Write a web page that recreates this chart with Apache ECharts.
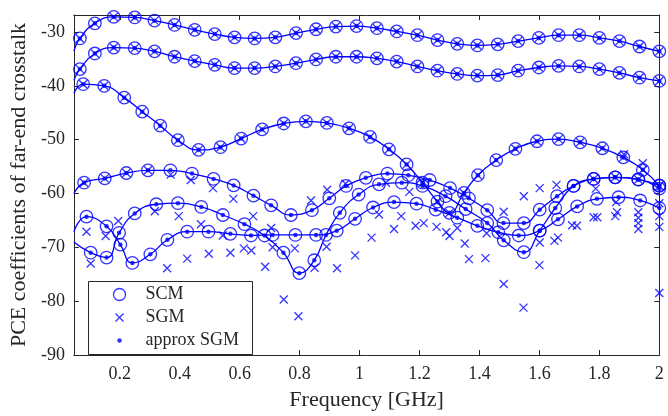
<!DOCTYPE html>
<html><head><meta charset="utf-8">
<script src="https://cdn.jsdelivr.net/npm/echarts@6/dist/echarts.min.js"></script>
<style>html,body{margin:0;padding:0;background:#fff}#c{width:668px;height:416px}</style>
</head><body><div id="c"></div>
<script>
// ---- data (frequency in GHz, PCE coefficient in dB) ----
const fStart = 0.047;
const lineStart = [-33.5, -39.0, -41.4, -60.0, -67.1, -69.0];

const fA = [0.067, 0.117, 0.18, 0.25, 0.316, 0.383, 0.45, 0.517, 0.583, 0.65, 0.719, 0.788, 0.855, 0.921, 0.99, 1.058, 1.124, 1.193, 1.26, 1.326, 1.393, 1.461, 1.529, 1.598, 1.664, 1.733, 1.8, 1.867, 1.934, 2.0];
const scm1 = [-31.2, -28.4, -27.2, -27.3, -27.9, -28.7, -29.6, -30.4, -31.0, -31.2, -31.0, -30.2, -29.5, -29.0, -28.9, -29.3, -29.9, -30.6, -31.5, -32.2, -32.5, -32.3, -31.7, -31.1, -30.6, -30.6, -31.1, -31.7, -32.7, -33.6];
const scm2 = [-36.9, -34.0, -32.9, -33.0, -33.6, -34.6, -35.4, -36.1, -36.7, -36.7, -36.4, -35.8, -35.1, -34.6, -34.6, -34.9, -35.5, -36.4, -37.2, -37.8, -38.1, -38.0, -37.2, -36.6, -36.3, -36.4, -36.9, -37.6, -38.5, -39.1];

const f3 = [0.078, 0.148, 0.215, 0.275, 0.335, 0.394, 0.463, 0.536, 0.605, 0.675, 0.747, 0.821, 0.891, 0.965, 1.035, 1.098, 1.157, 1.21, 1.26, 1.30, 1.348, 1.395, 1.456, 1.52, 1.592, 1.664, 1.736, 1.81, 1.88, 1.945, 2.0];
const scm3 = [-39.7, -40.0, -42.2, -44.8, -47.4, -50.1, -51.9, -51.4, -49.8, -48.1, -47.0, -46.6, -46.9, -47.9, -49.5, -51.8, -54.6, -58.0, -61.5, -63.6, -59.9, -56.6, -53.8, -51.7, -50.3, -49.9, -50.5, -51.6, -53.3, -55.6, -58.6];

const f4 = [0.081, 0.15, 0.222, 0.294, 0.369, 0.441, 0.513, 0.58, 0.646, 0.705, 0.771, 0.841, 0.899, 0.955, 1.021, 1.093, 1.163, 1.234, 1.302, 1.365, 1.426, 1.48, 1.548, 1.601, 1.659, 1.714, 1.781, 1.853, 1.93, 2.0];
const scm4 = [-58.0, -57.2, -56.2, -55.7, -55.7, -56.3, -57.3, -58.5, -60.4, -62.2, -64.0, -63.1, -60.9, -58.6, -57.1, -56.3, -56.6, -57.5, -59.0, -60.9, -63.1, -65.5, -65.5, -63.0, -60.5, -58.6, -57.3, -57.0, -57.4, -58.5];

const f5 = [0.089, 0.156, 0.202, 0.242, 0.302, 0.359, 0.425, 0.496, 0.569, 0.638, 0.71, 0.786, 0.855, 0.924, 0.985, 1.045, 1.115, 1.19, 1.254, 1.326, 1.393, 1.463, 1.531, 1.601, 1.662, 1.726, 1.792, 1.864, 1.936, 2.0];
const scm5 = [-64.3, -66.1, -69.5, -72.9, -71.3, -68.6, -67.1, -67.1, -67.5, -67.8, -67.7, -67.7, -67.7, -66.9, -64.7, -62.6, -61.6, -61.9, -63.0, -64.5, -66.0, -67.2, -67.8, -66.9, -64.8, -62.4, -61.0, -60.7, -61.3, -62.7];

const f6 = [0.103, 0.156, 0.198, 0.25, 0.322, 0.394, 0.472, 0.544, 0.616, 0.683, 0.746, 0.799, 0.849, 0.888, 0.934, 0.997, 1.065, 1.141, 1.21, 1.287, 1.354, 1.426, 1.481, 1.548, 1.601, 1.653, 1.714, 1.781, 1.853, 1.93, 2.0];
const scm6 = [-71.0, -71.9, -67.3, -63.7, -62.0, -61.8, -62.5, -64.0, -65.7, -67.8, -71.0, -74.8, -72.4, -67.7, -63.6, -60.2, -58.3, -58.0, -58.6, -60.5, -62.9, -65.5, -68.7, -70.9, -66.9, -62.7, -58.6, -57.3, -57.0, -57.4, -59.1];

// SGM samples that do not sit on the SCM circles
const sgmF = [0.089, 0.103, 0.153, 0.195, 0.317, 0.358, 0.37, 0.397, 0.425, 0.437, 0.471, 0.497, 0.511, 0.544, 0.569, 0.579, 0.614, 0.639, 0.645, 0.685, 0.705, 0.71, 0.747, 0.784, 0.796, 0.838, 0.85, 0.89, 0.892, 0.925, 0.953, 0.985, 1.04, 1.065, 1.088, 1.115, 1.139, 1.166, 1.187, 1.214, 1.257, 1.289, 1.30, 1.326, 1.351, 1.365, 1.42, 1.424, 1.481, 1.481, 1.548, 1.547, 1.601, 1.601, 1.6, 1.657, 1.65, 1.662, 1.709, 1.725, 1.781, 1.793, 1.788, 1.853, 1.859, 1.856, 1.882, 1.93, 1.93, 1.93, 1.93, 1.945, 2.0, 2.0, 2.0, 2.0];
const sgmV = [-67.1, -73.0, -67.9, -65.1, -63.3, -73.9, -56.5, -64.2, -72.1, -57.5, -65.7, -71.2, -59.0, -67.8, -71.0, -61.0, -70.2, -70.6, -64.2, -73.6, -66.4, -70.0, -79.7, -70.2, -82.8, -61.3, -73.8, -69.9, -59.3, -73.9, -58.2, -71.5, -68.2, -63.9, -58.0, -66.6, -64.2, -59.7, -66.0, -65.5, -66.2, -67.2, -67.9, -66.4, -69.3, -72.2, -72.0, -67.4, -63.4, -76.8, -60.5, -81.2, -59.0, -69.1, -73.3, -58.4, -68.8, -68.2, -65.9, -66.0, -64.4, -64.4, -59.1, -64.2, -63.5, -61.6, -52.7, -63.5, -64.5, -65.5, -66.6, -54.4, -61.8, -64.2, -66.2, -78.5];

const xTickStep = 0.2;
const yTickStep = 10;

// ---- build ----
const blue = '#0000ff';
const axisColor = '#262626';
const font = 'Liberation Serif';
const zip = (f, v) => f.map((x, i) => [x, v[i]]);
const curves = [[fA, scm1], [fA, scm2], [f3, scm3], [f4, scm4], [f5, scm5], [f6, scm6]];

const allPts = [];
curves.forEach(c => zip(c[0], c[1]).forEach(p => allPts.push(p)));

const sgmPts = [];
[0, 1, 2].forEach(i => zip(curves[i][0], curves[i][1]).forEach(p => sgmPts.push(p)));
zip(f4, scm4).slice(0, 4).forEach(p => sgmPts.push(p));
zip(f6, scm6).slice(27, 30).forEach(p => sgmPts.push(p));
zip(sgmF, sgmV).forEach(p => sgmPts.push(p));

const series = curves.map((c, i) => ({
  type: 'line', data: [[fStart, lineStart[i]]].concat(zip(c[0], c[1])),
  smooth: 0.5, showSymbol: false, symbol: 'none', silent: true, z: 2,
  lineStyle: { color: blue, width: 1.3 }
}));
series.push({ type: 'scatter', name: 'SCM', data: allPts, symbol: 'circle', symbolSize: 12.5, z: 3,
  itemStyle: { color: 'rgba(0,0,0,0)', borderColor: blue, borderWidth: 1.3 } });
series.push({ type: 'scatter', name: 'SGM', data: sgmPts, symbol: 'path://M0,0L10,10M10,0L0,10', symbolSize: 8, z: 4,
  itemStyle: { color: 'none', borderColor: blue, borderWidth: 1.3 } });
series.push({ type: 'scatter', name: 'approx SGM', data: allPts, symbol: 'circle', symbolSize: 4.5, z: 5,
  itemStyle: { color: blue } });

const xFmt = v => { const k = v / xTickStep; return Math.abs(k - Math.round(k)) < 1e-6 ? String(Math.round(v * 10) / 10) : ''; };
const yFmt = v => { const k = v / yTickStep; return Math.abs(k - Math.round(k)) < 1e-6 ? String(Math.round(v)) : ''; };

const xBase = { type: 'value', min: fStart, max: 2, splitNumber: 10, splitLine: { show: false },
  axisLine: { lineStyle: { color: axisColor, width: 1 } },
  axisTick: { inside: true, length: 5, lineStyle: { color: axisColor } } };
const yBase = { type: 'value', min: -90, max: -26.85, interval: yTickStep, splitLine: { show: false },
  axisLine: { lineStyle: { color: axisColor, width: 1 } },
  axisTick: { inside: true, length: 5, lineStyle: { color: axisColor } } };

const chart = echarts.init(document.getElementById('c'), null, { renderer: 'canvas' });
chart.setOption({
  animation: false,
  backgroundColor: '#fff',
  textStyle: { fontFamily: font },
  grid: { left: 72.3, right: 8.7, top: 15, bottom: 54.3, containLabel: false },
  xAxis: [
    Object.assign({}, xBase, { position: 'bottom', name: 'Frequency [GHz]', nameLocation: 'middle', nameGap: 34,
      nameTextStyle: { fontFamily: font, fontSize: 22, color: '#262626' },
      axisLabel: { formatter: xFmt, margin: 10, fontFamily: font, fontSize: 18, color: '#262626' } }),
    Object.assign({}, xBase, { position: 'top', axisLabel: { show: false } })
  ],
  yAxis: [
    Object.assign({}, yBase, { position: 'left', name: 'PCE coefficients of far-end crosstalk', nameLocation: 'middle', nameGap: 37,
      nameTextStyle: { fontFamily: font, fontSize: 22, color: '#262626' },
      axisLabel: { formatter: yFmt, margin: 9, fontFamily: font, fontSize: 18, color: '#262626' } }),
    Object.assign({}, yBase, { position: 'right', axisLabel: { show: false } })
  ],
  graphic: [{
    type: 'rect', z: 100, silent: true,
    shape: { x: 88.5, y: 281.5, width: 164, height: 73 },
    style: { fill: '#fff', stroke: axisColor, lineWidth: 1 }
  }],
  legend: {
    orient: 'vertical', left: 111, top: 285.5, z: 200,
    padding: 0, itemGap: 5, itemWidth: 42, itemHeight: 12,
    selectedMode: false,
    textStyle: { fontFamily: font, fontSize: 18, color: '#262626' },
    data: [
      { name: 'SCM', icon: 'circle', itemStyle: { color: 'rgba(0,0,0,0)', borderColor: blue, borderWidth: 1.3 } },
      { name: 'SGM', icon: 'path://M0,0M12,12M2,2L10,10M10,2L2,10', itemStyle: { color: 'none', borderColor: blue, borderWidth: 1.3 } },
      { name: 'approx SGM', icon: 'path://M0,0M12,12M3.75,6a2.25,2.25 0 1,0 4.5,0a2.25,2.25 0 1,0 -4.5,0Z', itemStyle: { color: blue, borderWidth: 0 } }
    ]
  },
  series: series
});
</script>
</body></html>
